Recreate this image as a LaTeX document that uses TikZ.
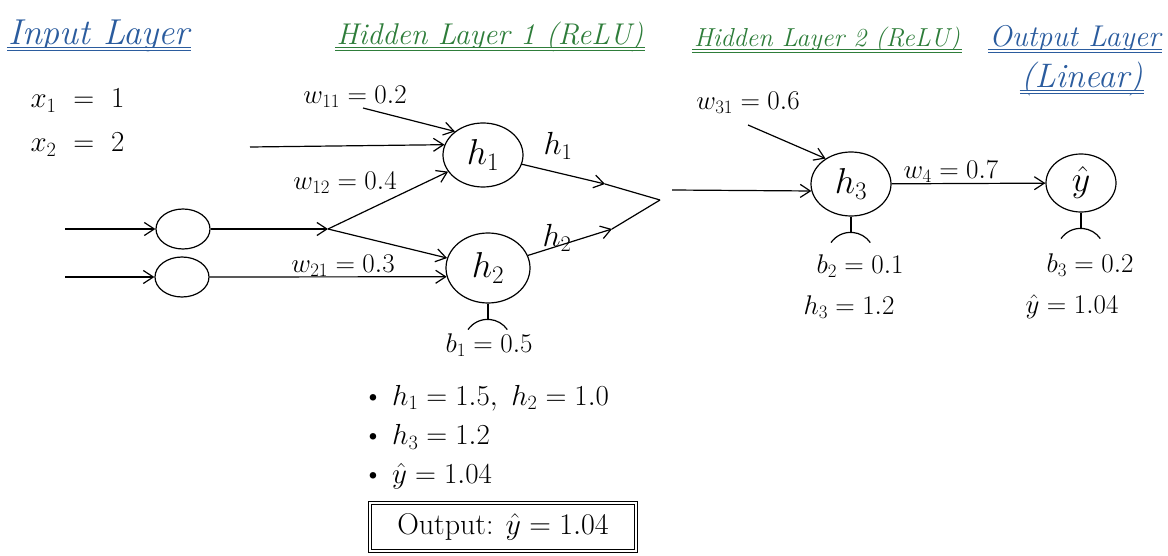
\RequirePackage{fix-cm}
\documentclass[tikz,border=0pt]{standalone}
\usepackage{amsmath,amssymb}
\usepackage{fontspec}
\usepackage{tikz}
\usetikzlibrary{positioning,arrows.meta,shapes.geometric}
\usepackage{xcolor}
\definecolor{layerblue}{HTML}{2B5C9E}
\definecolor{layergreen}{HTML}{2E7D3A}
\newcommand{\fsz}[1]{\fontsize{#1}{#1}\selectfont}

\begin{document}
\begin{tikzpicture}[x=1pt,y=-1pt,>={Straight Barb[length=10pt,width=13pt]},line width=1.2pt,
  neuron/.style={ellipse,draw,minimum width=80pt,minimum height=64pt,inner sep=0pt,font=\fsz{36}},
  lab/.style={font=\fsz{27},inner sep=0pt},
  val/.style={font=\fsz{29},inner sep=0pt},
  title/.style={font=\fsz{30}\itshape,inner sep=1pt,anchor=base},
  uline/.style={double,double distance=1.6pt,line width=0.9pt}]
\useasboundingbox (0,0) rectangle (1168,556);

\node[title,text=layerblue,font=\fsz{36}\itshape] (tin) at (99,45) {Input Layer};
\node[title,text=layergreen] (th1) at (490,45) {Hidden Layer 1 (ReLU)};
\node[title,text=layergreen,font=\fsz{26}\itshape] (th2) at (827,47) {Hidden Layer 2 (ReLU)};
\node[title,text=layerblue] (tout) at (1075,47) {Output Layer};
\node[title,text=layerblue,font=\fsz{34}\itshape] (tlin) at (1082,88) {(Linear)};
\foreach \t/\c in {tin/layerblue,th1/layergreen,th2/layergreen,tout/layerblue,tlin/layerblue}
  \draw[uline,draw=\c] ([yshift=-4pt]\t.base west) -- ([yshift=-4pt]\t.base east);

\node[val,anchor=base west] (x1) at (30,108) {$x_1\ =\ 1$};
\node[val,anchor=base west] (x2) at (30,152) {$x_2\ =\ 2$};

\node[neuron,minimum width=54pt,minimum height=40pt] (in1) at (183,229) {};
\node[neuron,minimum width=54pt,minimum height=40pt] (in2) at (182,277) {};
\node[neuron] (h1) at (483,155) {$h_1$};
\node[neuron,minimum width=84pt,minimum height=70pt] (h2) at (488,268) {$h_2$};
\node[neuron] (h3) at (851,184) {$h_3$};
\node[neuron,minimum width=70pt,minimum height=58pt] (yhat) at (1081,183) {$\hat{y}$};

\coordinate (s1) at (65,229);
\coordinate (s2) at (65,277);
\coordinate (j) at (328,229);
\coordinate (s0) at (250,147);
\coordinate (sw11) at (363,108);
\coordinate (m) at (660,200);
\coordinate (m1) at (605,184);
\coordinate (m2) at (612,229);
\coordinate (s3) at (672,190);
\coordinate (sw31) at (748,125);

\draw[->] (s1) -- (in1);
\draw[->] (s2) -- (in2);
\draw[->] (in1) -- (j);
\draw[->] (j) -- (h1);
\draw[->] (j) -- (h2);
\draw[->] (in2) -- (h2.192);
\draw[->] (s0) -- (h1.165);
\draw[->] (sw11) -- (h1.140);
\draw[->] (h1) -- (m1);
\draw (m1) -- (m);
\draw[->] (h2) -- (m2);
\draw (m2) -- (m);
\draw[->] (s3) -- (h3.190);
\draw[->] (sw31) -- (h3.135);
\draw[->] (h3) -- (yhat);

% bias stems
\foreach \n in {h2,h3,yhat}{
  \draw (\n.south) -- ++(0,16) coordinate (\n-b);
  \draw ([shift={(-20,10)}]\n-b) arc[start angle=215,end angle=325,radius=24];
}

\node[lab] (w11) at (355,97) {$w_{11}=0.2$};
\node[lab] (w12) at (345,183) {$w_{12}=0.4$};
\node[lab] (w21) at (343,266) {$w_{21}=0.3$};
\node[lab,font=\fsz{32}] (lh1) at (558,146) {$h_1$};
\node[lab,font=\fsz{32}] (lh2) at (557,238) {$h_2$};
\node[lab] (w31) at (748,103) {$w_{31}=0.6$};
\node[lab] (w4) at (951,172) {$w_4=0.7$};
\node[lab] (b1) at (489,345) {$b_1=0.5$};
\node[lab] (b2) at (860,266) {$b_2=0.1$};
\node[lab] (b3) at (1090,265) {$b_3=0.2$};
\node[lab] (h3v) at (849,307) {$h_3=1.2$};
\node[lab] (yv) at (1072,307) {$\hat{y}=1.04$};

\node[val,anchor=west] (r1) at (362,398) {\textbullet\ $h_1=1.5,\ h_2=1.0$};
\node[val,anchor=west] (r2) at (362,437) {\textbullet\ $h_3=1.2$};
\node[val,anchor=west] (r3) at (362,476) {\textbullet\ $\hat{y}=1.04$};
\node[draw,double,double distance=2pt,line width=1pt,minimum width=266pt,minimum height=48pt,font=\fsz{30}] (res) at (503,527) {Output: $\hat{y}=1.04$};
\end{tikzpicture}
\end{document}
